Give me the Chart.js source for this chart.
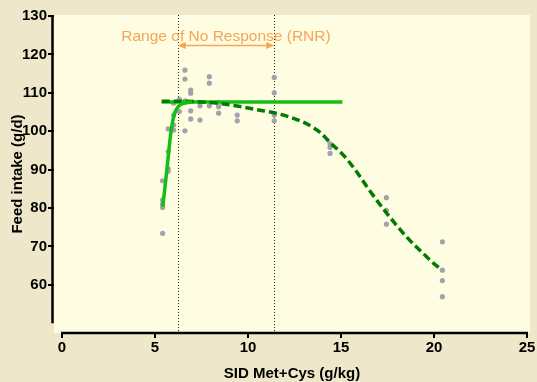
<!DOCTYPE html>
<html>
<head>
<meta charset="utf-8">
<script src="https://cdn.jsdelivr.net/npm/chart.js@4.4.1/dist/chart.umd.min.js"></script>
<style>
html,body{margin:0;padding:0;background:#efe7c9;}
canvas{display:block;}
</style>
</head>
<body>
<canvas id="c" width="537" height="382"></canvas>
<script>
// ---- data ----
const xTicks = [0, 5, 10, 15, 20, 25];
const yTicks = [60, 70, 80, 90, 100, 110, 120, 130];
const obsX = [5.41,5.41,5.41,5.41,5.41,5.71,5.71,5.71,5.71,6.0,6.0,6.0,6.0,6.31,6.31,6.61,6.61,6.61,6.61,6.92,6.92,6.92,6.92,7.42,7.42,7.92,7.92,7.92,8.42,8.42,8.42,9.42,9.42,11.41,11.41,11.41,11.41,14.41,14.41,14.41,17.44,17.44,17.44,20.45,20.45,20.45,20.45];
const obsY = [87.1,82.1,80.1,73.4,81.0,94.7,90.2,100.6,89.6,107.3,100.3,101.6,104.2,108.3,105.1,115.9,113.6,107.9,100.1,110.7,109.9,105.3,103.2,106.6,102.9,114.2,112.5,106.6,107.5,106.4,104.7,104.2,102.7,114.0,110.0,104.2,102.7,96.7,95.8,94.2,82.7,79.4,75.8,71.2,63.8,61.1,56.9];
const riseX = [5.41,5.52,5.63,5.72,5.80,5.88,5.98,6.10,6.25,6.45,6.70,7.00];
const riseY = [80.3,84.7,89.6,93.8,97.5,100.6,103.3,105.2,106.4,107.1,107.4,107.6];
const plateauX = [5.36, 15.07];
const plateauY = [107.6, 107.6];
const declineX = [5.36,6.5,7.5,8.5,9.5,10.5,11.4,12.3,13.2,13.9,14.4,15.1,15.8,16.5,17.4,18.5,19.6,20.0,20.41];
const declineY = [107.8,107.8,107.6,107.2,106.5,105.6,104.8,103.6,101.8,99.6,97.1,93.9,89.7,84.8,79.0,72.6,67.3,65.5,63.9];
const rnrLow = 6.22, rnrHigh = 11.41;
const rnrLabel = 'Range of No Response (RNR)';
const xTitle = 'SID Met+Cys (g/kg)';
const yTitle = 'Feed intake (g/d)';

const pts = (xs, ys) => xs.map((x, i) => ({x, y: ys[i]}));

const FONT = "'Liberation Sans', Arial, sans-serif";
const ORANGE = '#f6a456';

const decor = {
  id: 'decor',
  beforeDraw(chart) {
    const {ctx, chartArea: a} = chart;
    ctx.save();
    ctx.fillStyle = '#efe7c9';
    ctx.fillRect(0, 0, chart.width, chart.height);
    ctx.fillStyle = '#fffde1';
    ctx.fillRect(a.left, a.top, a.right - a.left, a.bottom - a.top);
    ctx.restore();
  },
  beforeDatasetsDraw(chart) {
    const {ctx, chartArea: a, scales: {x, y}} = chart;
    ctx.save();
    ctx.strokeStyle = '#222';
    ctx.lineWidth = 1;
    ctx.setLineDash([1, 2]);
    [rnrLow, rnrHigh].forEach(v => {
      const px = Math.round(x.getPixelForValue(v)) + 0.5;
      ctx.beginPath();
      ctx.moveTo(px, a.top);
      ctx.lineTo(px, a.bottom);
      ctx.stroke();
    });
    ctx.setLineDash([]);
    // label
    const x1 = x.getPixelForValue(rnrLow), x2 = x.getPixelForValue(rnrHigh);
    ctx.fillStyle = ORANGE;
    ctx.font = "15.5px " + FONT;
    ctx.textAlign = 'center';
    ctx.textBaseline = 'middle';
    ctx.fillText(rnrLabel, (x1 + x2) / 2, 37);
    // arrow
    const ay = 45.5;
    ctx.strokeStyle = ORANGE;
    ctx.lineWidth = 1.5;
    ctx.beginPath();
    ctx.moveTo(x1 + 4, ay);
    ctx.lineTo(x2 - 4, ay);
    ctx.stroke();
    ctx.beginPath();
    ctx.moveTo(x1, ay); ctx.lineTo(x1 + 8, ay - 3.5); ctx.lineTo(x1 + 8, ay + 3.5); ctx.closePath();
    ctx.moveTo(x2, ay); ctx.lineTo(x2 - 8, ay - 3.5); ctx.lineTo(x2 - 8, ay + 3.5); ctx.closePath();
    ctx.fill();
    ctx.restore();
  },
  afterDraw(chart) {
    const {ctx, chartArea: a, scales: {x, y}} = chart;
    ctx.save();
    ctx.strokeStyle = '#000';
    ctx.lineWidth = 2.5;
    ctx.beginPath();
    ctx.moveTo(a.left - 1.5, y.getPixelForValue(130) - 1);
    ctx.lineTo(a.left - 1.5, y.getPixelForValue(50));
    ctx.stroke();
    ctx.beginPath();
    ctx.moveTo(x.getPixelForValue(0) - 1, a.bottom);
    ctx.lineTo(x.getPixelForValue(25) + 1, a.bottom);
    ctx.stroke();
    ctx.restore();
  }
};

new Chart(document.getElementById('c'), {
  type: 'scatter',
  data: {
    datasets: [
      {data: pts(riseX, riseY), showLine: true, borderColor: '#14bf14', borderWidth: 3.5, pointRadius: 0, cubicInterpolationMode: 'monotone', order: 0},
      {data: pts(plateauX, plateauY), showLine: true, borderColor: '#14bf14', borderWidth: 3.5, pointRadius: 0, order: 1},
      {data: pts(declineX, declineY), showLine: true, borderColor: '#007d00', borderWidth: 3.5, borderDash: [8, 4], pointRadius: 0, cubicInterpolationMode: 'monotone', order: 0},
      {data: pts(obsX, obsY), showLine: false, pointRadius: 2.6, pointBackgroundColor: '#a2a2aa', pointBorderWidth: 0, order: 2}
    ]
  },
  options: {
    responsive: false,
    animation: false,
    devicePixelRatio: 1,
    layout: {padding: {top: 15, right: 7, left: 0, bottom: 0}},
    plugins: {legend: {display: false}, tooltip: {enabled: false}},
    scales: {
      x: {
        type: 'linear', min: -0.43, max: 25.16,
        afterBuildTicks: s => { s.ticks = xTicks.map(v => ({value: v})); },
        afterFit: s => { s.height = 49; },
        ticks: {color: '#000', font: {family: FONT, size: 15, weight: 'bold'}, padding: 1, autoSkip: false, maxRotation: 0},
        grid: {drawOnChartArea: false, drawTicks: true, tickLength: 5, color: '#000', lineWidth: 2},
        border: {display: false},
        title: {display: true, text: xTitle, color: '#000', font: {family: FONT, size: 15, weight: 'bold'}, padding: {top: 0, bottom: -1}}
      },
      y: {
        type: 'linear', min: 47.45, max: 130.26,
        afterBuildTicks: s => { s.ticks = yTicks.map(v => ({value: v})); },
        afterFit: s => { s.width = 54; },
        ticks: {color: '#000', font: {family: FONT, size: 15, weight: 'bold'}, padding: 1, autoSkip: false},
        grid: {drawOnChartArea: false, drawTicks: true, tickLength: 6, color: '#000', lineWidth: 2},
        border: {display: false},
        title: {display: true, text: yTitle, color: '#000', font: {family: FONT, size: 15, weight: 'bold'}, padding: {top: 9, bottom: 0}}
      }
    }
  },
  plugins: [decor]
});
</script>
</body>
</html>
